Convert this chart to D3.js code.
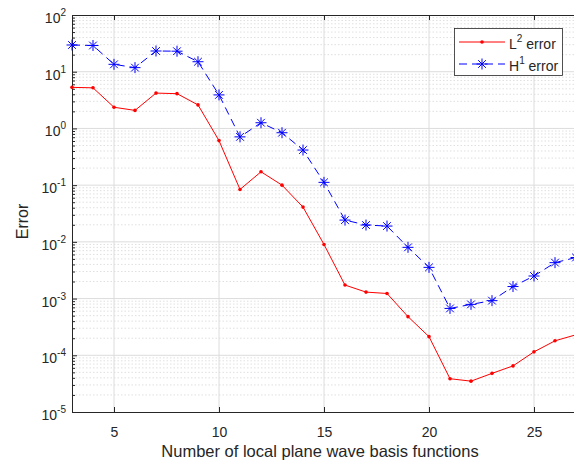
<!DOCTYPE html>
<html>
<head>
<meta charset="utf-8">
<script src="https://cdn.jsdelivr.net/npm/d3@7"></script>
<style>
  body { margin: 0; background: white; }
  text { font-family: "Liberation Sans", Arial, sans-serif; fill: #262626; }
</style>
</head>
<body>
<div id="viz"></div>
<script>
const nBasis = [3, 4, 5, 6, 7, 8, 9, 10, 11, 12, 13, 14, 15, 16, 17, 18, 19, 20, 21, 22, 23, 24, 25, 26, 27];
const l2Error = [5.3, 5.2, 2.36, 2.08, 4.2, 4.1, 2.6, 0.61, 0.084, 0.172, 0.1, 0.041, 0.009,
    1.73e-3, 1.3e-3, 1.23e-3, 4.8e-4, 2.13e-4, 3.86e-5, 3.5e-5, 4.8e-5, 6.5e-5, 1.15e-4, 1.8e-4, 2.3e-4];
const h1Error = [29.6, 29, 13.5, 11.8, 23.2, 23, 15, 3.9, 0.71, 1.26, 0.84, 0.416, 0.112,
    0.0242, 0.0198, 0.019, 0.008, 0.00355, 6.7e-4, 7.9e-4, 9.2e-4, 1.63e-3, 2.5e-3, 4.3e-3, 5.3e-3];
const xTicks = [5, 10, 15, 20, 25];
const yExponents = [-5, -4, -3, -2, -1, 0, 1, 2];

const width = 574, height = 463;
const margin = { top: 15, right: -2, bottom: 51, left: 72 };

const svg = d3.select("#viz").append("svg")
    .attr("width", width)
    .attr("height", height);

const x = d3.scaleLinear()
    .domain([3, 27])
    .range([margin.left, width - margin.right]);

const y = d3.scaleLog()
    .domain([1e-5, 1e2])
    .range([height - margin.bottom, margin.top]);

const x0 = x.range()[0], x1 = x.range()[1];
const y0 = y.range()[0], y1 = y.range()[1];

// minor values between decades
const minor = [];
yExponents.slice(0, -1).forEach(e => {
    for (let k = 2; k <= 9; k++) minor.push(k * Math.pow(10, e));
});

// grid
const grid = svg.append("g");
grid.selectAll(".minor").data(minor).enter().append("line")
    .attr("x1", x0).attr("x2", x1)
    .attr("y1", d => y(d)).attr("y2", d => y(d))
    .attr("stroke", "#d8d8d8").attr("stroke-width", 0.8)
    .attr("stroke-dasharray", "1.5,2");
grid.selectAll(".majorY").data(yExponents.slice(1, -1)).enter().append("line")
    .attr("x1", x0).attr("x2", x1)
    .attr("y1", d => y(Math.pow(10, d))).attr("y2", d => y(Math.pow(10, d)))
    .attr("stroke", "#dcdcdc").attr("stroke-width", 1);
grid.selectAll(".majorX").data(xTicks).enter().append("line")
    .attr("x1", d => x(d)).attr("x2", d => x(d))
    .attr("y1", y0).attr("y2", y1)
    .attr("stroke", "#dcdcdc").attr("stroke-width", 1);

// axes
const axisColor = "#262626";
const xAxis = svg.append("g")
    .attr("transform", `translate(0,${y0})`)
    .call(d3.axisBottom(x).tickValues(xTicks).tickSize(-5).tickPadding(15));
xAxis.selectAll("text").attr("font-size", 14).attr("fill", "#262626");

svg.append("g")
    .attr("transform", `translate(0,${y1})`)
    .call(d3.axisTop(x).tickValues(xTicks).tickSize(-5).tickFormat(""));

svg.append("g")
    .attr("transform", `translate(${x0},0)`)
    .call(d3.axisLeft(y).tickValues(yExponents.map(e => Math.pow(10, e))).tickSize(-5).tickFormat(""));

svg.append("g")
    .attr("transform", `translate(${x0},0)`)
    .call(d3.axisLeft(y).tickValues(minor).tickSize(-3).tickFormat(""))
    .select(".domain").remove();

svg.selectAll(".domain, .tick line").attr("stroke", axisColor);

// y tick labels with superscript exponents
yExponents.forEach(e => {
    const t = svg.append("text")
        .attr("x", x0 - 6)
        .attr("y", y(Math.pow(10, e)) + 8)
        .attr("text-anchor", "end")
        .attr("font-size", 14);
    t.append("tspan").text("10");
    t.append("tspan").attr("font-size", 10).attr("dy", -7).text(String(e));
});

// axis labels
svg.append("text")
    .attr("x", 320)
    .attr("y", 457)
    .attr("text-anchor", "middle")
    .attr("font-size", 16.5)
    .text("Number of local plane wave basis functions");

svg.append("text")
    .attr("transform", `translate(28,${(y0 + y1) / 2 + 8}) rotate(-90)`)
    .attr("text-anchor", "middle")
    .attr("font-size", 16)
    .text("Error");

// series
const line = d3.line().x((d, i) => x(nBasis[i])).y(d => y(d));

svg.append("path")
    .attr("d", line(l2Error))
    .attr("fill", "none")
    .attr("stroke", "#ff0000")
    .attr("stroke-width", 1);

svg.selectAll(".l2pt").data(l2Error).enter().append("circle")
    .attr("cx", (d, i) => x(nBasis[i]))
    .attr("cy", d => y(d))
    .attr("r", 1.8)
    .attr("fill", "#ff0000");

svg.append("path")
    .attr("d", line(h1Error))
    .attr("fill", "none")
    .attr("stroke", "#0000ff")
    .attr("stroke-width", 1)
    .attr("stroke-dasharray", "8,5");

function star(g, cx, cy, r) {
    const d = `M${cx - r},${cy}L${cx + r},${cy}M${cx},${cy - r}L${cx},${cy + r}` +
        `M${cx - r * 0.7},${cy - r * 0.7}L${cx + r * 0.7},${cy + r * 0.7}` +
        `M${cx - r * 0.7},${cy + r * 0.7}L${cx + r * 0.7},${cy - r * 0.7}`;
    g.append("path").attr("d", d).attr("stroke", "#0000ff").attr("stroke-width", 1).attr("fill", "none");
}

const stars = svg.append("g");
h1Error.forEach((d, i) => star(stars, x(nBasis[i]), y(d), 5.5));

// legend
const legend = svg.append("g");
legend.append("rect")
    .attr("x", 454.5).attr("y", 28.5)
    .attr("width", 108).attr("height", 47)
    .attr("fill", "white").attr("stroke", axisColor).attr("stroke-width", 0.8);

legend.append("line").attr("x1", 459).attr("x2", 505).attr("y1", 42).attr("y2", 42)
    .attr("stroke", "#ff0000").attr("stroke-width", 1);
legend.append("circle").attr("cx", 482).attr("cy", 42).attr("r", 1.8).attr("fill", "#ff0000");
legend.append("line").attr("x1", 459).attr("x2", 505).attr("y1", 64).attr("y2", 64)
    .attr("stroke", "#0000ff").attr("stroke-width", 1).attr("stroke-dasharray", "8,5");
star(legend, 482, 64, 5.5);

[["L", "2", 49], ["H", "1", 71]].forEach(([base, sup, ty]) => {
    const t = legend.append("text").attr("x", 509).attr("y", ty).attr("font-size", 14);
    t.append("tspan").text(base);
    t.append("tspan").attr("font-size", 10).attr("dy", -7).text(sup);
    t.append("tspan").attr("dy", 7).text(" error");
});
</script>
</body>
</html>
